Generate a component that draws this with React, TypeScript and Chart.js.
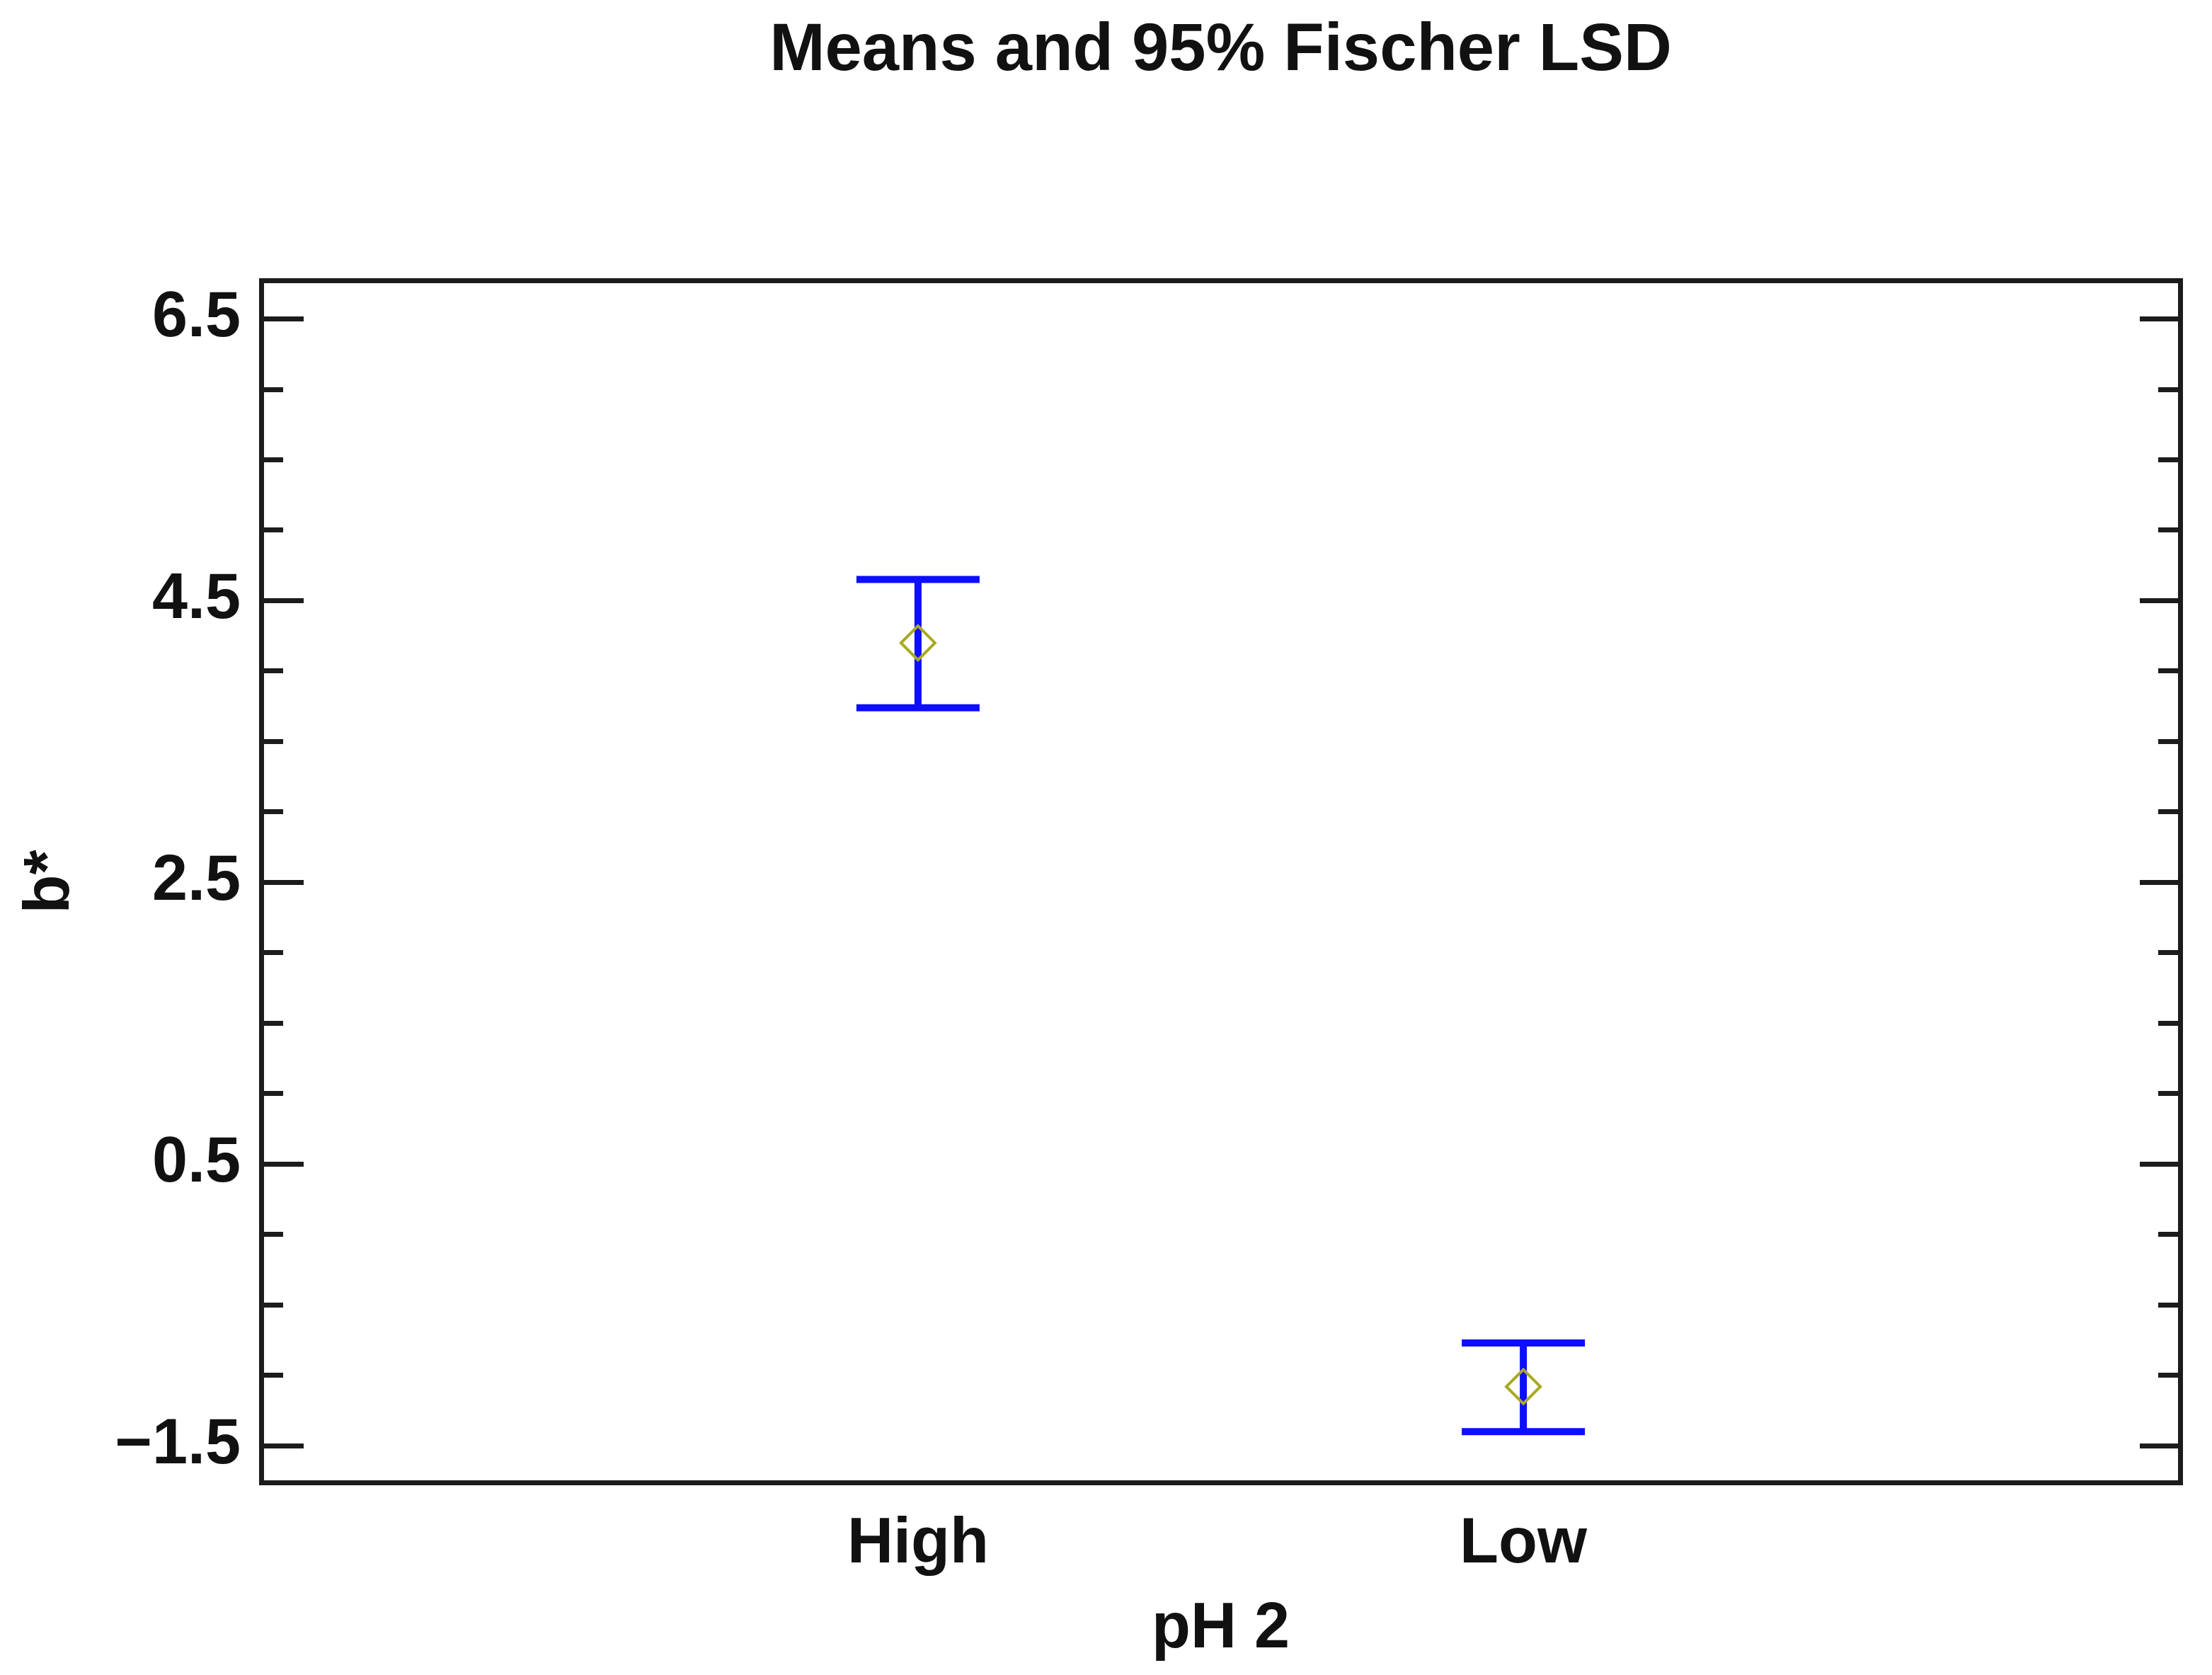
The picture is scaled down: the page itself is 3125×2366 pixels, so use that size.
import { useEffect, useRef } from "react"
import { Chart, registerables, type ChartConfiguration, type Plugin } from "chart.js"

Chart.register(...registerables)

// pH 2 groups, means and 95% Fischer LSD limits for b*
const groups = ["High", "Low"]
const groupX = [1, 2]
const means = [4.2, -1.08]
const lower = [3.74, -1.4]
const upper = [4.65, -0.77]

const yMajorTicks = [-1.5, 0.5, 2.5, 4.5, 6.5]
const yMinorTicks = [-1.5, -1.0, -0.5, 0, 0.5, 1.0, 1.5, 2.0, 2.5, 3.0, 3.5, 4.0, 4.5, 5.0, 5.5, 6.0, 6.5]

const Y_MIN = -1.76
const Y_MAX = 6.77
const X_MIN = -0.085
const X_MAX = 3.085

const FONT = "'Liberation Sans', Arial, sans-serif"
const INK = "#111111"
const FRAME = "#1c1c1c"
const BAR_BLUE = "#0d0dff"
const DIAMOND = "#a9a923"

const fmt = (v: number) => (v < 0 ? "\u2212" + Math.abs(v).toFixed(1) : v.toFixed(1))

const errorBars: Plugin = {
  id: "errorBars",
  beforeDatasetsDraw(chart) {
    const { ctx } = chart
    const x = chart.scales.x
    const y = chart.scales.y
    const capHalf = 87
    ctx.save()
    ctx.strokeStyle = BAR_BLUE
    ctx.lineWidth = 10
    ctx.lineCap = "butt"
    groupX.forEach((gx, i) => {
      const px = x.getPixelForValue(gx)
      const top = y.getPixelForValue(upper[i])
      const bot = y.getPixelForValue(lower[i])
      ctx.beginPath()
      ctx.moveTo(px, top)
      ctx.lineTo(px, bot)
      ctx.moveTo(px - capHalf, top)
      ctx.lineTo(px + capHalf, top)
      ctx.moveTo(px - capHalf, bot)
      ctx.lineTo(px + capHalf, bot)
      ctx.stroke()
    })
    ctx.restore()
  },
}

export default function App() {
  const canvasRef = useRef<HTMLCanvasElement>(null)
  const chartRef = useRef<Chart | null>(null)

  useEffect(() => {
    if (!canvasRef.current) return
    if (chartRef.current) chartRef.current.destroy()

    const tickFont = { family: FONT, size: 90, weight: "bold" as const }

    const config: ChartConfiguration = {
      type: "scatter",
      data: {
        datasets: [
          {
            label: "b*",
            data: groupX.map((gx, i) => ({ x: gx, y: means[i] })),
            pointStyle: "rectRot",
            pointRadius: 24,
            pointBorderWidth: 4,
            pointBorderColor: DIAMOND,
            pointBackgroundColor: "rgba(0,0,0,0)",
            showLine: false,
          },
        ],
      },
      options: {
        responsive: false,
        animation: false,
        devicePixelRatio: 1,
        layout: { padding: 0 },
        plugins: {
          legend: { display: false },
          tooltip: { enabled: false },
          title: {
            display: true,
            text: "Means and 95% Fischer LSD",
            fullSize: false,
            color: INK,
            font: { family: FONT, size: 94, weight: "bold" },
            padding: { top: 17, bottom: 267 },
          },
        },
        scales: {
          x: {
            type: "linear",
            position: "bottom",
            min: X_MIN,
            max: X_MAX,
            afterBuildTicks: (s) => {
              s.ticks = groupX.map((v) => ({ value: v }))
            },
            afterFit: (s) => {
              s.height = 272
            },
            ticks: {
              padding: 34,
              color: INK,
              font: tickFont,
              callback: (v) => groups[groupX.indexOf(Number(v))] ?? "",
            },
            grid: { drawOnChartArea: false, drawTicks: false },
            border: { display: true, color: FRAME, width: 7 },
            title: {
              display: true,
              text: "pH 2",
              color: INK,
              font: tickFont,
              padding: { top: 0, bottom: 10 },
            },
          },
          x2: {
            type: "linear",
            position: "top",
            min: X_MIN,
            max: X_MAX,
            afterFit: (s) => {
              s.height = 0
            },
            ticks: { display: false },
            grid: { drawOnChartArea: false, drawTicks: false },
            border: { display: true, color: FRAME, width: 7 },
          },
          y: {
            type: "linear",
            position: "left",
            weight: 1,
            min: Y_MIN,
            max: Y_MAX,
            afterBuildTicks: (s) => {
              s.ticks = yMajorTicks.map((v) => ({ value: v }))
            },
            afterFit: (s) => {
              s.width = 369
            },
            ticks: {
              padding: 89,
              color: INK,
              font: tickFont,
              callback: (v) => fmt(Number(v)),
            },
            grid: { drawOnChartArea: false, drawTicks: true, tickLength: -60, color: FRAME, lineWidth: 7 },
            border: { display: true, color: FRAME, width: 7 },
            title: {
              display: true,
              text: "b*",
              color: INK,
              font: tickFont,
              padding: { top: 18, bottom: 0 },
            },
          },
          yMinor: {
            type: "linear",
            position: "left",
            weight: 0,
            min: Y_MIN,
            max: Y_MAX,
            afterBuildTicks: (s) => {
              s.ticks = yMinorTicks.map((v) => ({ value: v }))
            },
            afterFit: (s) => {
              s.width = 0
            },
            ticks: { display: false },
            grid: { drawOnChartArea: false, drawTicks: true, tickLength: -31, color: FRAME, lineWidth: 7 },
            border: { display: false },
          },
          y2: {
            type: "linear",
            position: "right",
            weight: 1,
            min: Y_MIN,
            max: Y_MAX,
            afterBuildTicks: (s) => {
              s.ticks = yMajorTicks.map((v) => ({ value: v }))
            },
            afterFit: (s) => {
              s.width = 45
            },
            ticks: { display: false },
            grid: { drawOnChartArea: false, drawTicks: true, tickLength: -57, color: FRAME, lineWidth: 7 },
            border: { display: true, color: FRAME, width: 7 },
          },
          y2Minor: {
            type: "linear",
            position: "right",
            weight: 0,
            min: Y_MIN,
            max: Y_MAX,
            afterBuildTicks: (s) => {
              s.ticks = yMinorTicks.map((v) => ({ value: v }))
            },
            afterFit: (s) => {
              s.width = 0
            },
            ticks: { display: false },
            grid: { drawOnChartArea: false, drawTicks: true, tickLength: -31, color: FRAME, lineWidth: 7 },
            border: { display: false },
          },
        },
      },
      plugins: [errorBars],
    }

    chartRef.current = new Chart(canvasRef.current, config)

    return () => {
      if (chartRef.current) {
        chartRef.current.destroy()
        chartRef.current = null
      }
    }
  }, [])

  return (
    <div style={{ position: "absolute", left: 0, top: 0, width: 3125, height: 2366, background: "#ffffff" }}>
      <canvas ref={canvasRef} width={3125} height={2366} style={{ display: "block" }} />
    </div>
  )
}
